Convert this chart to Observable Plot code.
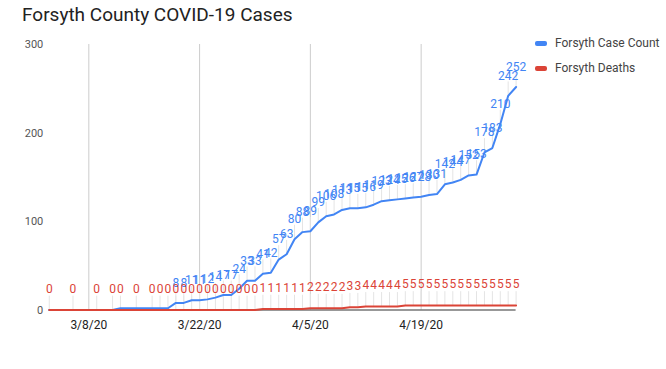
<!DOCTYPE html>
<html><head><meta charset="utf-8">
<script src="https://cdn.jsdelivr.net/npm/d3@7"></script>
<script src="https://cdn.jsdelivr.net/npm/@observablehq/plot@0.6"></script>
<style>
body{margin:0;background:#fff;font-family:Roboto,sans-serif;}
#wrap{position:relative;width:666px;height:369px;overflow:hidden;}
#title{position:absolute;left:22px;top:3px;font-size:19px;color:#222;white-space:nowrap;}
#chart{position:absolute;left:0;top:0;}
.legend{position:absolute;left:535px;font-size:12px;color:#444;display:flex;align-items:center;white-space:nowrap;height:14px;}
.sw{width:12px;height:5px;border-radius:2px;margin-right:8px;}
</style></head>
<body>
<div id="wrap">
<div id="chart"></div>
<div id="title">Forsyth County COVID-19 Cases</div>
<div id="legend"></div>
</div>
<script>
const dates = ["3/3/20","3/6/20","3/9/20","3/11/20","3/12/20","3/14/20","3/16/20","3/17/20","3/18/20","3/19/20","3/20/20","3/21/20","3/22/20","3/23/20","3/24/20","3/25/20","3/26/20","3/27/20","3/28/20","3/29/20","3/30/20","3/31/20","4/1/20","4/2/20","4/3/20","4/4/20","4/5/20","4/6/20","4/7/20","4/8/20","4/9/20","4/10/20","4/11/20","4/12/20","4/13/20","4/14/20","4/15/20","4/16/20","4/17/20","4/18/20","4/19/20","4/20/20","4/21/20","4/22/20","4/23/20","4/24/20","4/25/20","4/26/20","4/27/20","4/28/20","4/29/20","4/30/20","5/1/20"];
const caseCount = [0,0,0,0,2,2,2,2,2,8,8,11,11,12,14,17,17,24,33,33,41,42,57,63,80,88,89,99,106,108,113,115,115,116,119,123,124,125,126,127,128,130,131,142,144,147,152,153,178,183,210,242,252];
const deaths = [0,0,0,0,0,0,0,0,0,0,0,0,0,0,0,0,0,0,0,0,1,1,1,1,1,1,2,2,2,2,2,3,3,4,4,4,4,4,5,5,5,5,5,5,5,5,5,5,5,5,5,5,5];
const seriesNames = ["Forsyth Case Count","Forsyth Deaths"];
const seriesColors = ["#4285f4","#db4437"];
const xTickLabels = ["3/8/20","3/22/20","4/5/20","4/19/20"];
const yTicks = [0,100,200,300];

const parse = d3.utcParse("%m/%d/%y");
const data = dates.map((d,i)=>({date:parse(d), cases:caseCount[i], deaths:deaths[i]}));
const tickDates = xTickLabels.map(parse);
const stem = {draw(ctx, l){ctx.moveTo(0,0); ctx.lineTo(0,-l);}};

const chart = Plot.plot({
  width:666, height:369,
  marginLeft:48.75, marginRight:150.4, marginTop:44, marginBottom:59.5,
  style:{fontFamily:"Roboto, sans-serif", fontSize:"12px", background:"transparent"},
  x:{type:"utc", domain:[parse("3/3/20"), parse("5/1/20")]},
  y:{domain:[0,300]},
  marks:[
    Plot.ruleX(tickDates,{stroke:"#cccccc"}),
    Plot.vector(data.filter(d=>d.cases>=8),{x:"date", y:"cases", length:14, rotate:0, anchor:"start", shape:stem, stroke:"#e4e4e4", strokeWidth:1}),
    Plot.vector(data,{x:"date", y:"deaths", length:14, rotate:0, anchor:"start", shape:stem, stroke:"#e4e4e4", strokeWidth:1}),
    Plot.axisX(tickDates,{tickSize:0, tickPadding:10, tickFormat:(d,i)=>xTickLabels[i], fill:"#222", fontSize:12, label:null}),
    Plot.axisY(yTicks,{tickSize:0, tickPadding:6, fill:"#555", fontSize:11, label:null}),
    Plot.ruleY([0],{stroke:"#333"}),
    Plot.line(data,{x:"date", y:"cases", stroke:seriesColors[0], strokeWidth:2}),
    Plot.line(data,{x:"date", y:"deaths", stroke:seriesColors[1], strokeWidth:2}),
    Plot.text(data.filter(d=>d.cases>=8),{x:"date", y:"cases", text:d=>String(d.cases), dy:-20, fill:seriesColors[0], fontSize:12}),
    Plot.text(data,{x:"date", y:"deaths", text:d=>String(d.deaths), dy:-21, fill:seriesColors[1], fontSize:12})
  ]
});
document.getElementById("chart").appendChild(chart);

const lg = document.getElementById("legend");
seriesNames.forEach((n,i)=>{
  const el = document.createElement("div");
  el.className = "legend";
  el.style.top = (36 + i*25) + "px";
  el.innerHTML = `<div class="sw" style="background:${seriesColors[i]}"></div>${n}`;
  lg.appendChild(el);
});
</script>
</body></html>
